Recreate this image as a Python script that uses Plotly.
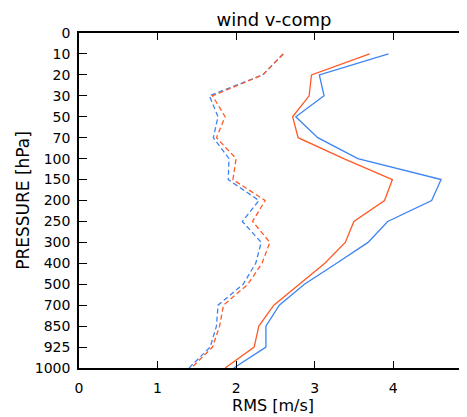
import plotly.graph_objects as go

# Pressure levels (hPa) and y-axis tick labels
pressure = [10, 20, 30, 50, 70, 100, 150, 200, 250, 300, 400, 500, 700, 850, 925, 1000]
tick_labels = ["0", "10", "20", "30", "50", "70", "100", "150", "200", "250",
               "300", "400", "500", "700", "850", "925", "1000"]

# RMS [m/s] series
blue_solid = [3.94, 3.06, 3.12, 2.76, 3.04, 3.55, 4.61, 4.49, 3.93, 3.68, 3.28, 2.87, 2.55, 2.38, 2.38, 1.97]
red_solid = [3.70, 2.96, 2.93, 2.72, 2.79, 3.37, 3.99, 3.89, 3.50, 3.39, 3.13, 2.80, 2.48, 2.29, 2.23, 1.86]
blue_dash = [2.60, 2.34, 1.66, 1.77, 1.71, 1.91, 1.90, 2.29, 2.08, 2.32, 2.25, 2.09, 1.77, 1.75, 1.67, 1.40]
red_dash = [2.60, 2.34, 1.70, 1.86, 1.75, 2.00, 1.96, 2.37, 2.21, 2.43, 2.33, 2.15, 1.84, 1.79, 1.70, 1.43]

x_ticks = [0, 1, 2, 3, 4]

BLUE = "#3d84f2"
RED = "#ff5a26"

ypos = [tick_labels.index(str(p)) for p in pressure]

fig = go.Figure()
series = [
    (blue_dash, BLUE, "dash", "y"),
    (red_dash, RED, "dash", "y"),
    (blue_solid, BLUE, "solid", "y"),
    (red_solid, RED, "solid", "y2"),
]
for vals, col, dash, ax in series:
    fig.add_trace(go.Scatter(
        x=vals, y=ypos, mode="lines", yaxis=ax,
        line=dict(color=col, width=1.3, dash="5px,3px" if dash == "dash" else "solid"),
        showlegend=False, hoverinfo="skip",
    ))

font = dict(family="DejaVu Sans", size=14, color="black")
yrange = [len(tick_labels) - 1, 0]

W, H = 459, 409  # page body has an 8px margin

fig.update_layout(
    width=W, height=H,
    margin=dict(l=71, r=0, t=25, b=49),
    paper_bgcolor="white", plot_bgcolor="white",
    font=font,
    title=dict(text="wind v-comp", x=266 / W, xanchor="center", y=1 - 12 / H, yanchor="middle",
               font=dict(family="DejaVu Sans", size=18, color="black")),
    xaxis=dict(
        range=[0, 4.94], tickvals=x_ticks, ticktext=[str(v) for v in x_ticks],
        showgrid=False, zeroline=False, showline=True, linecolor="black", linewidth=1.5,
        mirror="ticks", ticks="inside", ticklen=7, tickcolor="black", tickwidth=1,
        title=dict(text="RMS [m/s]", standoff=3,
                   font=dict(family="DejaVu Sans", size=16, color="black")),
        tickfont=font, ticklabelstandoff=6, automargin=False,
    ),
    yaxis=dict(
        range=yrange, tickvals=list(range(len(tick_labels))), ticktext=tick_labels,
        showgrid=False, zeroline=False, showline=True, linecolor="black", linewidth=1.5,
        ticks="inside", ticklen=8, tickcolor="black", tickwidth=1,
        title=dict(text="PRESSURE [hPa]", standoff=1,
                   font=dict(family="DejaVu Sans", size=17, color="black")),
        tickfont=font, ticklabelstandoff=4, automargin=False,
    ),
    yaxis2=dict(
        range=yrange, overlaying="y", side="right", tickvals=list(range(len(tick_labels))),
        showticklabels=False, showgrid=False, zeroline=False, showline=False,
        ticks="inside", ticklen=4, tickcolor="black", tickwidth=1, automargin=False,
    ),
)

fig.write_html("out.html")
